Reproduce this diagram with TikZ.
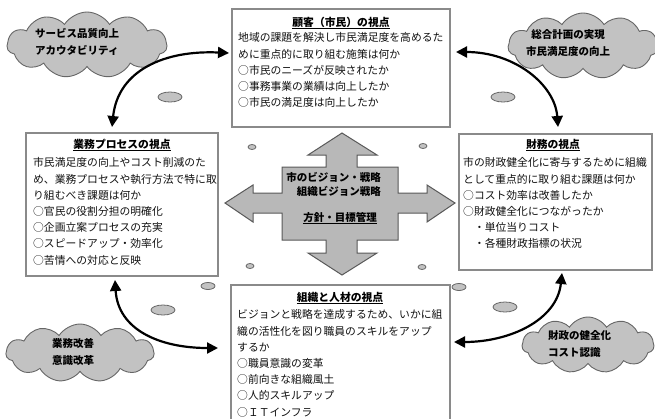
\documentclass[tikz,border=0pt]{standalone}
\usepackage{fontspec}
\newfontfamily\jp{Noto Sans CJK JP}
\usetikzlibrary{shapes.symbols,shapes.geometric,arrows.meta}
\definecolor{boxline}{HTML}{8A8A8A}
\definecolor{crossfill}{HTML}{B8B8B8}
\definecolor{cloudfill}{HTML}{C2C2C2}
\definecolor{txt}{HTML}{111111}
\newcommand\maru{\makebox[1em][c]{○}}
\tikzset{
  box/.style={draw=boxline,line width=1.5bp,fill=white,rectangle,inner sep=0pt},
  ttl/.style={font=\jp\bfseries\fontsize{10.8bp}{16.2bp}\selectfont,inner sep=0pt,text=black},
  body/.style={font=\jp\fontsize{10.8bp}{16.2bp}\selectfont,inner sep=0pt,align=left,anchor=north west,text=txt},
  cloudbox/.style={cloud,cloud puffs=11,cloud puff arc=115,cloud ignores aspect,draw=black!60,line width=0.9bp,fill=cloudfill,inner sep=0pt},
  cloudtxt/.style={font=\jp\bfseries\fontsize{10.5bp}{17bp}\selectfont,inner sep=0pt,text=black},
  dot/.style={ellipse,draw=black!60,line width=0.8bp,fill=cloudfill,inner sep=0pt},
  link/.style={line width=2.2bp,{Triangle[length=11bp,width=11bp]}-{Triangle[length=11bp,width=11bp]}},
}
\begin{document}
\begin{tikzpicture}[x=1bp,y=-1bp]
\useasboundingbox (0,0) rectangle (655,418);
% boxes
\node[box,minimum width=218bp,minimum height=118bp] (T) at (341,68) {};
\node[box,minimum width=192bp,minimum height=143bp] (L) at (122,204.5) {};
\node[box,minimum width=193bp,minimum height=136bp] (R) at (555.5,202) {};
\node[box,minimum width=219bp,minimum height=137bp] (B) at (340.5,353.5) {};
% titles
\node[ttl] (Tt) at (341,23) {\underline{顧客（市民）の視点}};
\node[ttl] (Lt) at (122,145) {\underline{業務プロセスの視点}};
\node[ttl] (Rt) at (553,145) {\underline{財務の視点}};
\node[ttl] (Bt) at (340,298) {\underline{組織と人材の視点}};
% bodies
\node[body] (Tb) at (238,32.6) {地域の課題を解決し市民満足度を高めるた\\めに重点的に取り組む施策は何か\\\maru 市民のニーズが反映されたか\\\maru 事務事業の業績は向上したか\\\maru 市民の満足度は向上したか};
\node[body] (Lb) at (33,157.6) {市民満足度の向上やコスト削減のた\\め、業務プロセスや執行方法で特に取\\り組むべき課題は何か\\\maru 官民の役割分担の明確化\\\maru 企画立案プロセスの充実\\\maru スピードアップ・効率化\\\maru 苦情への対応と反映};
\node[body] (Rb) at (463,157.6) {市の財政健全化に寄与するために組織\\として重点的に取り組む課題は何か\\\maru コスト効率は改善したか\\\maru 財政健全化につながったか\\\hspace*{1em}・単位当りコスト\\\hspace*{1em}・各種財政指標の状況};
\node[body] (Bb) at (237,309.6) {ビジョンと戦略を達成するため、いかに組\\織の活性化を図り職員のスキルをアップ\\するか\\\maru 職員意識の変革\\\maru 前向きな組織風土\\\maru 人的スキルアップ\\\maru ＩＴインフラ};
% central cross
\draw[draw=black!65,line width=1bp,fill=crossfill]
 (342,133) -- (377,155) -- (357,155) -- (357,167) -- (398,167) -- (398,193) -- (427,193) -- (427,185) -- (455,203) -- (427,222) -- (427,213) -- (398,213) -- (398,240) -- (357,240) -- (357,253) -- (377,253) -- (342,275) -- (308,253) -- (326,253) -- (326,240) -- (282,240) -- (282,213) -- (253,213) -- (253,222) -- (225,203) -- (253,185) -- (253,193) -- (282,193) -- (282,167) -- (326,167) -- (326,155) -- (308,155) -- cycle;
\node[cloudtxt,anchor=east] (C1) at (381,177) {市のビジョン・戦略};
\node[cloudtxt,anchor=east] (C2) at (381,191) {組織ビジョン戦略};
\node[cloudtxt] (C3) at (340,218) {\underline{方針・目標管理}};
% clouds
\node[cloudbox,minimum width=160bp,minimum height=66bp] (K1) at (87,45) {};
\node[cloudtxt,align=left,anchor=west] (K1t) at (35,42) {サービス品質向上\\アカウタビリティ};
\node[cloudbox,minimum width=150bp,minimum height=66bp] (K2) at (583,46) {};
\node[cloudtxt,align=center] (K2t) at (568,43) {総合計画の実現\\市民満足度の向上};
\node[cloudbox,minimum width=148bp,minimum height=58bp] (K3) at (80,353) {};
\node[cloudtxt,align=left] (K3t) at (73,352) {業務改善\\意識改革};
\node[cloudbox,minimum width=132bp,minimum height=56bp] (K4) at (588,345) {};
\node[cloudtxt,align=left,anchor=west] (K4t) at (548,344) {財政の健全化\\コスト認識};
% small ellipses
\node[dot,minimum width=24bp,minimum height=10bp] (e1) at (170,97) {};
\node[dot,minimum width=24bp,minimum height=10bp] (e2) at (503,97) {};
\node[dot,minimum width=24bp,minimum height=10bp] (e3) at (163,310) {};
\node[dot,minimum width=24bp,minimum height=10bp] (e4) at (505,307) {};
\node[dot,minimum width=14bp,minimum height=7bp] (e5) at (208,286) {};
\node[dot,minimum width=14bp,minimum height=7bp] (e6) at (459,287) {};
\node[dot,minimum width=8bp,minimum height=5bp] (e7) at (252,147) {};
\node[dot,minimum width=8bp,minimum height=5bp] (e8) at (423,146) {};
\node[dot,minimum width=8bp,minimum height=5bp] (e9) at (250,266) {};
\node[dot,minimum width=8bp,minimum height=5bp] (e10) at (422,267) {};
% curved arrows
\coordinate (a1) at (112,127);
\coordinate (a2) at (229,53);
\coordinate (b1) at (456,52);
\coordinate (b2) at (558,127);
\coordinate (c1) at (562,273);
\coordinate (c2) at (454,342);
\coordinate (d1) at (115,280);
\coordinate (d2) at (218,348);
\draw[link] (a1) .. controls (118,70) and (165,50) .. (a2);
\draw[link] (b1) .. controls (515,52) and (555,85) .. (b2);
\draw[link] (c1) .. controls (557,320) and (510,342) .. (c2);
\draw[link] (d1) .. controls (118,330) and (160,348) .. (d2);
\end{tikzpicture}
\end{document}
